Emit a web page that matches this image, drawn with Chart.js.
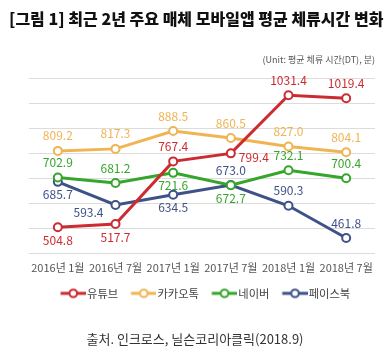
<!DOCTYPE html>
<html>
<head>
<meta charset="utf-8">
<script src="https://cdn.jsdelivr.net/npm/chart.js@4/dist/chart.umd.min.js"></script>
<style>
  html, body { margin: 0; padding: 0; background: #fff; }
  #wrap { position: relative; width: 390px; height: 354px; overflow: hidden; }
  #chart { position: absolute; left: 0; top: 0; }
  .txt { position: absolute; white-space: nowrap; font-family: "Noto Sans CJK KR", sans-serif; }
  #title { left: 9px; top: 6px; font-size: 16px; font-weight: 900; color: #111; }
  #unit { right: 15px; top: 53px; font-size: 9px; color: #555; }
  #source { left: 0; width: 390px; text-align: center; top: 329px; font-size: 13px; color: #333; }
</style>
</head>
<body>
<div id="wrap">
  <canvas id="chart" width="390" height="354"></canvas>
  <div class="txt" id="title">[그림 1] 최근 2년 주요 매체 모바일앱 평균 체류시간 변화</div>
  <div class="txt" id="unit">(Unit: 평균 체류 시간(DT), 분)</div>
  <div class="txt" id="source">출처. 인크로스, 닐슨코리아클릭(2018.9)</div>
</div>
<script>
const periods = ['2016년 1월', '2016년 7월', '2017년 1월', '2017년 7월', '2018년 1월', '2018년 7월'];
const seriesNames = ['유튜브', '카카오톡', '네이버', '페이스북'];
const youtube = [504.8, 517.7, 767.4, 799.4, 1031.4, 1019.4];
const kakao = [809.2, 817.3, 888.5, 860.5, 827.0, 804.1];
const naver = [702.9, 681.2, 721.6, 672.7, 732.1, 700.4];
const facebook = [685.7, 593.4, 634.5, 673.0, 590.3, 461.8];

// label placement: a = above, b = below, l = left-below, r = right-below
const labelPos = [
  ['b', 'b', 'a', 'r', 'a', 'a'],
  ['a', 'a', 'a', 'a', 'a', 'a'],
  ['a', 'a', 'b', 'b', 'a', 'a'],
  ['b', 'l', 'b', 'a', 'a', 'a'],
];
const colors = ['#cc2b31', '#f0b453', '#36a52b', '#3f5287'];

// line + hollow circle, drawn so the line runs right up to the legend text
function legendIcon(color) {
  const c = document.createElement('canvas');
  c.width = 37; c.height = 12;
  const g = c.getContext('2d');
  g.strokeStyle = color;
  g.lineWidth = 3;
  g.beginPath(); g.moveTo(11.5, 6); g.lineTo(37, 6); g.stroke();
  g.fillStyle = '#fff';
  g.lineWidth = 2;
  g.beginPath(); g.arc(24.25, 6, 3.8, 0, Math.PI * 2); g.fill(); g.stroke();
  return c;
}

const valueLabels = {
  id: 'valueLabels',
  afterDatasetsDraw(chart) {
    const ctx = chart.ctx;
    ctx.save();
    ctx.font = '12px "Noto Sans CJK KR", sans-serif';
    ctx.textBaseline = 'middle';
    ctx.textAlign = 'center';
    chart.data.datasets.forEach((ds, i) => {
      const meta = chart.getDatasetMeta(i);
      meta.data.forEach((pt, j) => {
        const txt = ds.data[j].toFixed(1);
        const pos = labelPos[i][j];
        let x = pt.x, y = pt.y;
        if (pos === 'a') y -= 15;
        else if (pos === 'b') y += 13;
        else if (pos === 'l') { x -= 27; y += 7; }
        else if (pos === 'r') { x += 23; y += 4; }
        ctx.fillStyle = ds.borderColor;
        ctx.fillText(txt, x, y);
      });
    });
    ctx.restore();
  }
};

const datasets = [youtube, kakao, naver, facebook].map((d, i) => ({
  label: seriesNames[i],
  data: d,
  borderColor: colors[i],
  backgroundColor: '#fff',
  borderWidth: 3,
  pointRadius: 4,
  pointBorderWidth: 2,
  pointBackgroundColor: '#fff',
  tension: 0,
}));

new Chart(document.getElementById('chart'), {
  type: 'line',
  data: { labels: periods, datasets },
  options: {
    responsive: false,
    animation: false,
    layout: { padding: { left: 29, right: 15, top: 78, bottom: 45 } },
    scales: {
      x: {
        offset: true,
        grid: { display: false, drawTicks: false },
        border: { display: false },
        ticks: {
          color: '#555',
          padding: 7.5,
          maxRotation: 0,
          font: { family: '"Noto Sans CJK KR", sans-serif', size: 11 },
        },
      },
      y: {
        min: 400,
        max: 1100,
        ticks: { display: false, stepSize: 100 },
        grid: { color: '#dcdcdc', lineWidth: 1, drawTicks: false },
        border: { display: false },
      },
    },
    plugins: {
      legend: {
        position: 'bottom',
        labels: {
          usePointStyle: true,
          pointStyleWidth: 27.6,
          padding: 6,
          color: '#444',
          font: { family: '"Noto Sans CJK KR", sans-serif', size: 11.3 },
          generateLabels(chart) {
            return chart.data.datasets.map((ds, i) => ({
              text: ds.label,
              pointStyle: legendIcon(colors[i]),
              fontColor: '#444',
              strokeStyle: colors[i],
              fillStyle: '#fff',
              lineWidth: 0,
              hidden: false,
              datasetIndex: i,
            }));
          },
        },
      },
      tooltip: { enabled: false },
    },
  },
  plugins: [valueLabels],
});
</script>
</body>
</html>
